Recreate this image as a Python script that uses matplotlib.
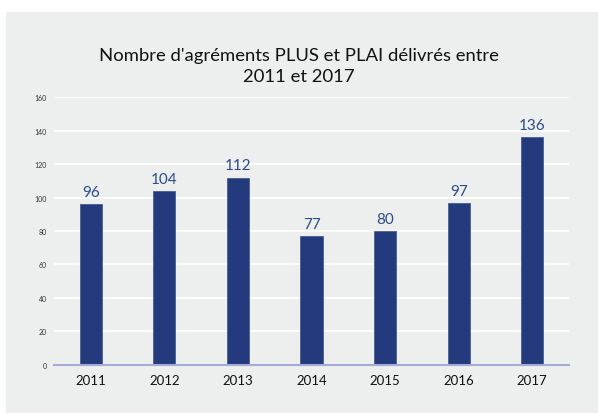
import matplotlib.pyplot as plt
from matplotlib.patches import Rectangle

years = ["2011", "2012", "2013", "2014", "2015", "2016", "2017"]
values = [96, 104, 112, 77, 80, 97, 136]
title = "Nombre d'agréments PLUS et PLAI délivrés entre\n2011 et 2017"

plt.rcParams['font.family'] = ['Lato', 'DejaVu Sans']

W, H = 598, 414
fig = plt.figure(figsize=(W/100, H/100), dpi=100)
fig.patch.set_facecolor('white')
bg = Rectangle((6/W, 0), 1 - 6/W, 1 - 13/H, transform=fig.transFigure,
               facecolor='#edeeee', edgecolor='none', zorder=-10)
fig.add_artist(bg)

x0, x1 = 54, 569
y0, y1 = 365.7, 98.3
ax = fig.add_axes([x0/W, 1 - y0/H, (x1-x0)/W, (y0-y1)/H])
ax.set_facecolor('none')
ax.set_zorder(1)
ax.set_ylim(0, 160)
ax.set_xlim(-0.5, len(years) - 0.5)
ax.set_yticks(range(0, 161, 20))
ax.yaxis.grid(True, color='white', linewidth=1.2)
ax.set_axisbelow(True)
for s in ['top', 'right', 'left']:
    ax.spines[s].set_visible(False)
ax.spines['bottom'].set_color('#a3acd6')
ax.spines['bottom'].set_linewidth(1.5)
ax.tick_params(axis='y', length=0, labelsize=5, pad=5, labelcolor='#333333')
ax.tick_params(axis='x', length=0, labelsize=9.5, pad=7, labelcolor='#111111')

bars = ax.bar(range(len(years)), values, width=0.3, color='#233a7c',
              edgecolor='#4a5c94', linewidth=0.6, zorder=2)
ax.set_xticks(range(len(years)))
ax.set_xticklabels(years)
for i, v in enumerate(values):
    ax.text(i, v + 4.8, str(v), ha='center', va='baseline', fontsize=11, color='#2d4a8c')

fig.text(0.5, 1 - 66.5/H, title, ha='center', va='center', fontsize=13.3, color='#111111',
         linespacing=1.45)

fig.savefig('out.png', dpi=100)
